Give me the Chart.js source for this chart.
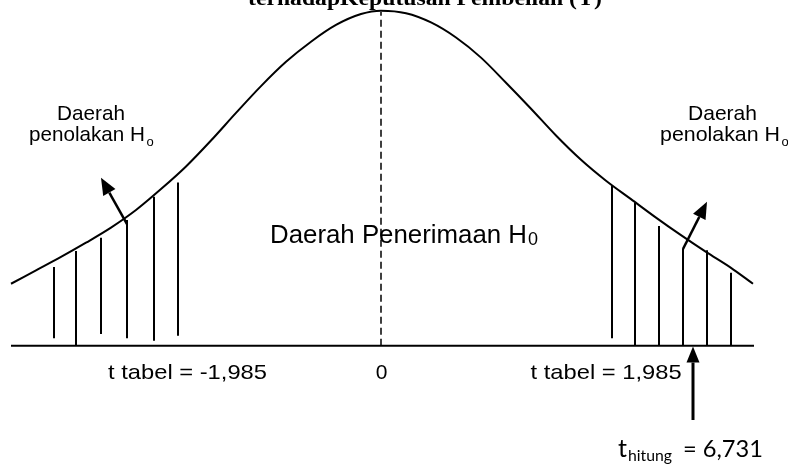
<!DOCTYPE html>
<html>
<head>
<meta charset="utf-8">
<script src="https://cdn.jsdelivr.net/npm/chart.js@4/dist/chart.umd.min.js"></script>
<style>
  html, body { margin: 0; padding: 0; background: #fff; }
  #wrap { width: 788px; height: 469px; }
</style>
</head>
<body>
<div id="wrap"><canvas id="c" width="788" height="469"></canvas></div>
<script>
"use strict";

// bell curve (x = t position, y = height)
const curveX = [-3.70, -3.45, -3.20, -2.95, -2.70, -2.45, -2.20, -1.95, -1.70, -1.45, -1.20, -0.95, -0.70, -0.45, -0.20, 0,
                0.25, 0.50, 0.75, 1.00, 1.25, 1.50, 1.75, 2.00, 2.25, 2.50, 2.75, 3.00, 3.25, 3.50, 3.72];
const curveY = [0.074, 0.090, 0.106, 0.123, 0.141, 0.162, 0.187, 0.214, 0.245, 0.278, 0.310, 0.339, 0.363, 0.383, 0.396, 0.400,
                0.397, 0.386, 0.368, 0.344, 0.314, 0.283, 0.251, 0.222, 0.197, 0.175, 0.153, 0.132, 0.112, 0.093, 0.074];

// hatching of the rejection regions
const hatchX = [-3.27, -3.05, -2.80, -2.54, -2.27, -2.03, 2.31, 2.54, 2.78, 3.02, 3.26, 3.50];
const hatchTop = [0.094, 0.113, 0.129, 0.150, 0.178, 0.195, 0.191, 0.171, 0.143, 0.116, 0.114, 0.087];
const hatchBottom = [0.009, 0, 0.014, 0.009, 0.006, 0.012, 0.009, 0, 0, 0, 0, 0];

const baseX = [-3.70, 3.73];
const meanLineTop = 0.3985;

// arrows [x0, y0, x1, y1]
const arrows = [
    [-2.54, 0.1453, -2.80, 0.2006],
    [3.02, 0.1155, 3.26, 0.1719],
    [3.12, -0.0887, 3.12, -0.0010]
];
const arrowHead = [[17, 14, 2.5], [17, 14, 2.5], [16, 13, 3]];

const labels = [
    { text: "terhadapKeputusan Pembelian (Y)", x: -1.33, y: 0.4068, font: 'bold 22px "Liberation Serif"', w: 354 },
    { text: "Daerah", x: -3.24, y: 0.2701, font: '21px "Liberation Sans"', w: 68 },
    { text: "penolakan H", x: -3.52, y: 0.2444, font: '21px "Liberation Sans"', w: 116 },
    { text: "o", x: -2.345, y: 0.2390, font: '13px "Liberation Sans"' },
    { text: "Daerah", x: 3.07, y: 0.2701, font: '21px "Liberation Sans"', w: 69 },
    { text: "penolakan H", x: 2.79, y: 0.2444, font: '21px "Liberation Sans"', w: 120 },
    { text: "o", x: 4.005, y: 0.2390, font: '13px "Liberation Sans"' },
    { text: "Daerah Penerimaan H", x: -1.11, y: 0.1223, font: '25px "Liberation Sans"', w: 257 },
    { text: "0", x: 1.47, y: 0.1202, font: '18px "Liberation Sans"' },
    { text: "t tabel = -1,985", x: -2.73, y: -0.0401, font: '21px "Liberation Sans"', w: 159 },
    { text: "0", x: 0.005, y: -0.0401, font: '21px "Liberation Sans"', align: "center" },
    { text: "t tabel = 1,985", x: 1.496, y: -0.0401, font: '21px "Liberation Sans"', w: 151 },
    { text: "t", x: 2.37, y: -0.1325, font: '25px Lato' },
    { text: "hitung", x: 2.47, y: -0.1377, font: '15px Lato', w: 44 },
    { text: "= 6,731", x: 3.02, y: -0.1325, font: '24px Lato', w: 80 }
];

let hatchData = [];
hatchX.forEach((x, i) => {
    hatchData.push({ x: x, y: hatchTop[i] });
    hatchData.push({ x: x, y: hatchBottom[i] });
    hatchData.push({ x: x, y: null });
});

const decorations = {
    id: "decorations",
    afterDatasetsDraw(chart) {
        const ctx = chart.ctx;
        const xs = chart.scales.x, ys = chart.scales.y;
        ctx.save();
        ctx.fillStyle = "#000";
        ctx.strokeStyle = "#000";
        arrows.forEach((a, i) => {
            const x0 = xs.getPixelForValue(a[0]), y0 = ys.getPixelForValue(a[1]);
            const x1 = xs.getPixelForValue(a[2]), y1 = ys.getPixelForValue(a[3]);
            const [len, wid, lw] = arrowHead[i];
            const ang = Math.atan2(y1 - y0, x1 - x0);
            const bx = x1 - len * Math.cos(ang), by = y1 - len * Math.sin(ang);
            ctx.lineWidth = lw;
            ctx.beginPath();
            ctx.moveTo(x0, y0);
            ctx.lineTo(bx, by);
            ctx.stroke();
            ctx.beginPath();
            ctx.moveTo(x1, y1);
            ctx.lineTo(bx + wid / 2 * Math.sin(ang), by - wid / 2 * Math.cos(ang));
            ctx.lineTo(bx - wid / 2 * Math.sin(ang), by + wid / 2 * Math.cos(ang));
            ctx.closePath();
            ctx.fill();
        });
        labels.forEach(l => {
            ctx.font = l.font;
            ctx.textBaseline = "alphabetic";
            ctx.textAlign = l.align || "left";
            const sx = l.w ? l.w / ctx.measureText(l.text).width : 1;
            ctx.save();
            ctx.translate(xs.getPixelForValue(l.x), ys.getPixelForValue(l.y));
            ctx.scale(sx, 1);
            ctx.fillText(l.text, 0, 0);
            ctx.restore();
        });
        ctx.restore();
    }
};

new Chart(document.getElementById("c"), {
    type: "scatter",
    data: {
        datasets: [
            {
                data: curveX.map((x, i) => ({ x: x, y: curveY[i] })),
                showLine: true, borderColor: "#000", borderWidth: 2,
                pointRadius: 0, cubicInterpolationMode: "monotone"
            },
            {
                data: baseX.map(x => ({ x: x, y: 0 })),
                showLine: true, borderColor: "#000", borderWidth: 2, pointRadius: 0
            },
            {
                data: [{ x: 0, y: 0 }, { x: 0, y: meanLineTop }],
                showLine: true, borderColor: "#000", borderWidth: 1.5, pointRadius: 0,
                borderDash: [7, 4]
            },
            {
                data: hatchData,
                showLine: true, borderColor: "#000", borderWidth: 2, pointRadius: 0,
                spanGaps: false
            }
        ]
    },
    options: {
        responsive: false,
        animation: false,
        layout: { padding: 0 },
        plugins: { legend: { display: false }, tooltip: { enabled: false }, title: { display: false } },
        scales: {
            x: { type: "linear", min: -3.81, max: 4.07, display: false },
            y: { type: "linear", min: -0.1472, max: 0.4128, display: false }
        }
    },
    plugins: [decorations]
});
</script>
</body>
</html>
